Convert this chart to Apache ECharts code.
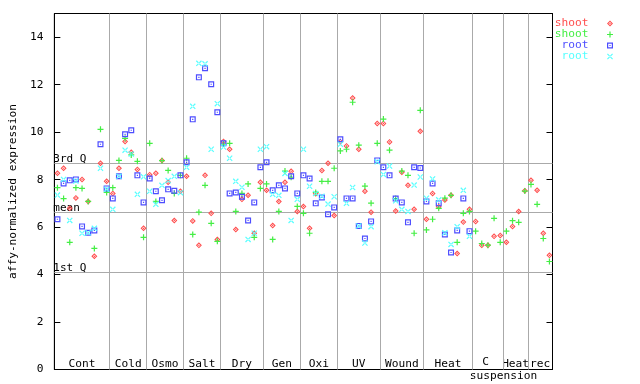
<!DOCTYPE html>
<html><head><meta charset="utf-8">
<script src="https://cdn.jsdelivr.net/npm/echarts@6/dist/echarts.min.js"></script>
<style>html,body{margin:0;padding:0;background:#fff}#c{width:640px;height:384px}</style>
</head><body><div id="c"></div>
<script>
// ---- data ----
const groupNames = ['Cont','Cold','Osmo','Salt','Dry','Gen','Oxi','UV','Wound','Heat','C suspension','Heat','rec'];
const groupSizes = [9,6,6,6,7,6,6,7,7,8,5,4,4];
const seriesLabels = ['shoot','shoot','root','root'];
const seriesKeys = ['shoot_1','shoot_2','root_1','root_2'];
const seriesColors = ['#ff4d4d','#44ee44','#4d4dff','#55ffff'];
const shootRep1 = [8.27,8.48,6.79,7.23,8.01,7.08,4.77,8.69,7.93,
  7.42,8.48,9.61,9.15,8.43,5.95,
  8.21,8.27,8.81,7.89,6.28,7.51,
  8.14,6.26,5.23,8.18,6.58,5.48,
  9.61,9.28,5.90,7.17,7.34,5.74,7.89,
  7.55,6.07,7.08,7.89,8.35,6.66,
  6.87,5.95,7.40,8.38,8.69,6.49,
  9.60,9.42,11.44,9.28,7.51,6.63,10.37,
  10.37,9.59,6.68,8.31,7.76,6.75,10.04,
  6.33,7.42,6.86,7.14,7.34,4.89,6.21,6.75,
  6.24,5.23,5.23,5.61,5.65,
  5.36,6.03,6.66,7.53,
  7.97,7.55,5.74,4.81];
const shootRep2 = [7.66,7.20,5.36,7.66,7.63,7.08,5.10,10.12,7.46,
  7.66,8.81,9.74,9.04,8.77,5.57,
  9.53,7.08,8.80,8.39,7.42,8.18,
  8.90,5.69,6.63,7.76,6.16,5.40,
  9.50,9.53,6.66,7.42,7.82,5.57,7.63,
  7.82,5.48,6.66,8.36,8.10,6.87,
  6.58,5.74,7.46,7.93,7.93,8.48,
  9.21,9.28,11.26,9.45,7.73,7.01,9.53,
  10.55,9.24,7.20,8.36,8.18,5.74,10.92,
  5.88,6.33,6.79,7.22,7.34,5.36,6.58,6.66,
  5.83,5.31,5.24,6.37,5.36,
  5.83,6.27,6.20,7.52,
  7.80,6.96,5.52,4.55];
const rootRep1 = [6.33,7.84,7.97,8.01,6.03,5.76,5.86,9.49,7.63,
  7.21,8.14,9.91,10.08,8.18,7.04,
  8.05,7.51,7.13,7.59,7.53,8.18,
  8.73,10.54,12.31,12.69,12.02,10.84,
  9.53,7.42,7.46,7.28,6.28,7.04,8.52,
  8.73,7.55,7.76,7.63,8.14,7.42,
  8.18,8.05,7.00,7.25,6.54,6.83,
  9.70,7.21,7.21,6.05,5.52,6.24,8.81,
  8.52,8.18,7.20,7.04,6.20,8.52,8.49,
  7.08,7.84,7.00,5.69,4.93,5.86,7.21,5.83,
  null,null,null,null,null,
  null,null,null,null,
  null,null,null,null];
const rootRep2 = [7.35,8.01,6.28,7.94,5.74,5.76,5.95,8.48,7.60,
  6.75,8.14,9.24,9.08,7.38,8.12,
  7.51,6.96,7.76,7.96,8.14,7.45,
  8.52,11.09,12.90,12.88,9.28,11.20,
  9.37,8.90,7.93,7.68,5.48,5.74,9.28,
  9.39,7.38,7.34,8.26,6.28,7.17,
  9.28,7.72,7.42,7.30,6.97,7.28,
  9.49,7.00,7.67,6.05,5.33,6.02,8.75,
  8.22,8.57,7.11,6.75,6.66,7.77,8.11,
  7.22,8.03,7.15,5.76,5.27,6.02,7.55,5.61,
  null,null,null,null,null,
  null,null,null,null,
  null,null,null,null];
const refValues = [8.69, 6.62, 4.09];
const refLabels = ['3rd Q', 'mean', '1st Q'];
const yMin = 0, yMax = 15, yStep = 2;
const yTitle = 'affy-normalized expression';

// ---- build ----
const FONT = 'DejaVu Sans Mono';
const allSeries = [shootRep1, shootRep2, rootRep1, rootRep2];
const symbols = [
  'path://M2.5,0L5,2.5L2.5,5L0,2.5Z M2.5,1.2L1.2,2.5L2.5,3.8L3.8,2.5Z M2,2L3,2L3,3L2,3Z',
  'path://M2,0H3V2H5V3H3V5H2V3H0V2H2Z',
  'path://M0,0H5V5H0Z M1,1V4H4V1Z M2,2H3V3H2Z',
  'path://M0,0.7L0.7,0L5,4.3L4.3,5Z M5,0.7L4.3,0L0,4.3L0.7,5Z'
];
const symbolSizes = [6, 6, 6, 6];
const total = groupSizes.reduce((a,b)=>a+b,0);
const bounds = [0];
groupSizes.forEach(s => bounds.push(bounds[bounds.length-1] + s));

const vLines = bounds.slice(1, -1).map(b => ({ xAxis: b, label: { show: false } }));
const hLines = refValues.map((v, k) => ({
  yAxis: v,
  label: { show: true, formatter: refLabels[k], position: 'insideStartTop', distance: -1,
           color: '#000', fontFamily: FONT, fontSize: 11, padding: 0 }
}));
const areas = groupNames.map((name, k) => {
  const parts = name.split(' ');
  const lab = { show: true, position: 'insideBottom', distance: 0, color: '#000',
                fontFamily: FONT, fontSize: 11.2 };
  if (parts.length > 1) {
    lab.formatter = '{a|' + parts[0] + '}\n{b|' + parts.slice(1).join(' ') + '}';
    lab.rich = { a: { fontFamily: FONT, fontSize: 11.2, lineHeight: 14, color: '#000' },
                 b: { fontFamily: FONT, fontSize: 11.2, lineHeight: 14, color: '#000', padding: [0,0,0,36] } };
    lab.offset = [-2.4, 14];
  }
  return [{ xAxis: bounds[k], name: name, label: lab }, { xAxis: bounds[k+1] }];
});

const series = allSeries.map((vals, k) => ({
  type: 'scatter', name: seriesKeys[k], symbol: symbols[k], symbolSize: symbolSizes[k],
  itemStyle: { color: seriesColors[k], opacity: 1 },
  data: vals.map((v, i) => [i + 0.5, v]).filter(d => d[1] != null),
  z: 5 + k, silent: true
}));
series.push({
  type: 'scatter', name: '_ref', data: [], silent: true, z: 1,
  markLine: { silent: true, symbol: ['none','none'], animation: false,
    lineStyle: { color: '#aaaaaa', width: 1, type: 'solid' },
    data: vLines.concat(hLines) },
  markArea: { silent: true, animation: false, itemStyle: { color: 'rgba(0,0,0,0)' },
    label: { color: '#000', fontFamily: FONT, fontSize: 11.2 },
    data: areas }
});

const chart = echarts.init(document.getElementById('c'), null, { renderer: 'canvas' });
chart.setOption({
  animation: false,
  backgroundColor: '#fff',
  grid: { left: 44, right: 87.5, top: 13.5, bottom: 14.5, show: true, borderColor: '#000', borderWidth: 1 },
  legend: {
    orient: 'vertical', right: 27, top: 18, align: 'right', padding: 0,
    itemWidth: 6, itemHeight: 6, itemGap: 0, selectedMode: false,
    textStyle: { fontFamily: FONT, fontSize: 11.2, lineHeight: 11 },
    data: seriesKeys.map((key, k) => ({ name: key, textStyle: { color: seriesColors[k] } })),
    formatter: name => seriesLabels[seriesKeys.indexOf(name)].padStart(5, ' ') + '  '
  },
  xAxis: { type: 'value', min: 0, max: total,
    axisLine: { show: true, lineStyle: { color: '#000' } },
    axisTick: { show: false }, axisLabel: { show: false }, splitLine: { show: false } },
  yAxis: [
    { type: 'value', min: yMin, max: yMax, interval: yStep, position: 'left',
      axisLine: { show: true, lineStyle: { color: '#000' } },
      axisTick: { show: true, inside: true, length: 6, lineStyle: { color: '#000' } },
      axisLabel: { color: '#000', fontFamily: FONT, fontSize: 11.2, margin: 11,
                   showMaxLabel: false, formatter: v => (v > yMax - yStep / 2 ? '' : String(v)) },
      splitLine: { show: false },
      name: yTitle, nameLocation: 'middle', nameRotate: 90, nameGap: 26,
      nameTextStyle: { color: '#000', fontFamily: FONT, fontSize: 11.2 } },
    { type: 'value', min: yMin, max: yMax, interval: yStep, position: 'right',
      axisLine: { show: true, lineStyle: { color: '#000' } },
      axisTick: { show: true, inside: true, length: 6, lineStyle: { color: '#000' } },
      axisLabel: { show: false }, splitLine: { show: false } }
  ],
  series: series
});
</script>
</body></html>
